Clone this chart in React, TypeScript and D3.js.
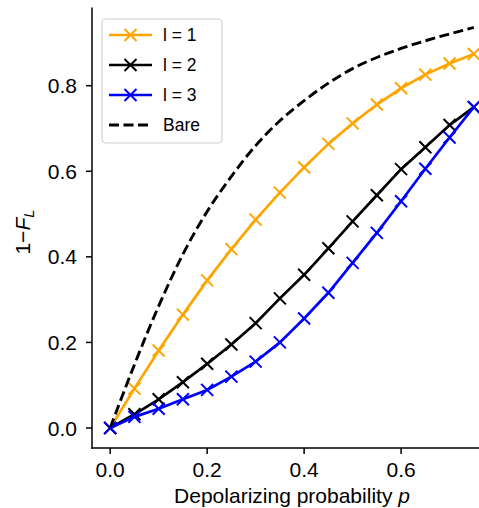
import React from "react";
import * as d3 from "d3";

const pValues = [0, 0.05, 0.1, 0.15, 0.2, 0.25, 0.3, 0.35, 0.4, 0.45, 0.5, 0.55, 0.6, 0.65, 0.7, 0.75];
const l1Values = [0, 0.092, 0.181, 0.265, 0.345, 0.418, 0.487, 0.55, 0.609, 0.664, 0.712, 0.756, 0.794, 0.826, 0.852, 0.874];
const l2Values = [0, 0.032, 0.067, 0.107, 0.15, 0.195, 0.245, 0.303, 0.358, 0.42, 0.483, 0.544, 0.605, 0.656, 0.708, 0.75];
const l3Values = [0, 0.026, 0.045, 0.067, 0.089, 0.12, 0.155, 0.2, 0.256, 0.316, 0.386, 0.456, 0.53, 0.606, 0.679, 0.75];
const bareValues = [0, 0.148, 0.285, 0.406, 0.506, 0.588, 0.66, 0.718, 0.765, 0.806, 0.84, 0.866, 0.887, 0.905, 0.921, 0.936];
const xTicks = [0, 0.2, 0.4, 0.6];
const yTicks = [0, 0.2, 0.4, 0.6, 0.8];
const seriesNames = ["l = 1", "l = 2", "l = 3", "Bare"];
const seriesColors = ["#FFA500", "#000000", "#0000FF", "#000000"];

const W = 479;
const H = 508;
const FONT = "'Liberation Sans', Arial, Helvetica, sans-serif";

export default function App() {
  const left = 92, right = 492, top = 7.5, bottom = 448;
  const x = d3.scaleLinear().domain([-0.0375, 0.7875]).range([left, right]);
  const y = d3.scaleLinear().domain([-0.0468, 0.9828]).range([bottom, top]);

  const lin = d3.line<number>().x((_, i) => x(pValues[i])).y((v) => y(v));
  const smooth = d3
    .line<number>()
    .x((_, i) => x(pValues[i]))
    .y((v) => y(v))
    .curve(d3.curveMonotoneX);

  const marked = [l1Values, l2Values, l3Values];
  const ms = 6;

  const marker = (cx: number, cy: number, color: string, key: string) => (
    <path
      key={key}
      d={`M${cx - ms},${cy - ms}L${cx + ms},${cy + ms}M${cx - ms},${cy + ms}L${cx + ms},${cy - ms}`}
      stroke={color}
      strokeWidth={2}
      fill="none"
    />
  );

  const legX = 102, legY = 19;
  const rowY = [35, 65, 95, 125];

  return (
    <svg
      width={W}
      height={H}
      style={{ position: "absolute", left: 0, top: 0, background: "#fff" }}
      fontFamily={FONT}
    >
      <rect x={0} y={0} width={W} height={H} fill="#fff" />
      {/* data */}
      {marked.map((vals, si) => (
        <g key={si}>
          <path d={lin(vals) || ""} fill="none" stroke={seriesColors[si]} strokeWidth={2.7} />
          {vals.map((v, i) => marker(x(pValues[i]), y(v), seriesColors[si], `${si}-${i}`))}
        </g>
      ))}
      <path
        d={smooth(bareValues) || ""}
        fill="none"
        stroke={seriesColors[3]}
        strokeWidth={2.9}
        strokeDasharray="10,4.5"
      />

      {/* axes */}
      <line x1={left} x2={left} y1={top} y2={bottom + 0.75} stroke="#000" strokeWidth={1.5} />
      <line x1={left - 0.75} x2={right} y1={bottom} y2={bottom} stroke="#000" strokeWidth={1.5} />
      {xTicks.map((t) => (
        <g key={`xt${t}`}>
          <line x1={x(t)} x2={x(t)} y1={bottom} y2={bottom + 6} stroke="#000" strokeWidth={1.5} />
          <text x={x(t)} y={bottom + 29} textAnchor="middle" fontSize={21} fill="#000">
            {t.toFixed(1)}
          </text>
        </g>
      ))}
      {yTicks.map((t) => (
        <g key={`yt${t}`}>
          <line x1={left - 6} x2={left} y1={y(t)} y2={y(t)} stroke="#000" strokeWidth={1.5} />
          <text
            x={left - 15}
            y={y(t)}
            dy="0.36em"
            textAnchor="end"
            fontSize={21}
            fill="#000"
          >
            {t.toFixed(1)}
          </text>
        </g>
      ))}
      <text x={(left + right) / 2} y={503} textAnchor="middle" fontSize={21} fill="#000">
        Depolarizing probability <tspan fontStyle="italic">p</tspan>
      </text>
      <text
        transform={`translate(30, 232) rotate(-90)`}
        textAnchor="middle"
        fontSize={21}
        fill="#000"
      >
        1−<tspan fontStyle="italic">F</tspan>
        <tspan fontStyle="italic" fontSize={15} dy={4}>
          L
        </tspan>
      </text>

      {/* legend */}
      <rect
        x={legX}
        y={legY}
        width={120}
        height={124}
        rx={4}
        fill="#fff"
        fillOpacity={0.8}
        stroke="#d0d0d0"
        strokeWidth={1.2}
      />
      {seriesNames.map((name, i) => (
        <g key={name}>
          <line
            x1={109}
            x2={152}
            y1={rowY[i]}
            y2={rowY[i]}
            stroke={seriesColors[i]}
            strokeWidth={i === 3 ? 2.9 : 2.7}
            strokeDasharray={i === 3 ? "10,4.5" : undefined}
          />
          {i < 3 && marker(130.5, rowY[i], seriesColors[i], `leg${i}`)}
          <text x={163} y={rowY[i]} dy="0.36em" fontSize={17.5} fill="#000">
            {name}
          </text>
        </g>
      ))}
    </svg>
  );
}
